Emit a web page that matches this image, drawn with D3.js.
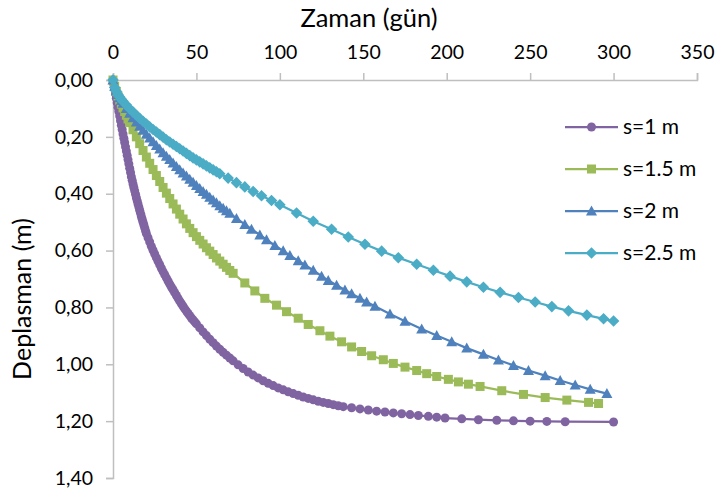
<!DOCTYPE html>
<html>
<head>
<meta charset="utf-8">
<script src="https://cdn.jsdelivr.net/npm/d3@7"></script>
<style>
  body { margin: 0; background: #fff; }
  svg { font-family: Lato, "Open Sans", sans-serif; }
</style>
</head>
<body>
<svg id="chart"></svg>
<script>
// Zaman (gün) vs Deplasman (m), one list of days and one of displacements per drain spacing
const seriesNames = ["s=1 m", "s=1.5 m", "s=2 m", "s=2.5 m"];

const s1Days = [0,0.5,1,1.5,2,2.5,3,3.5,4,4.5,5,5.5,6,6.5,7,7.5,8,8.5,9,9.5,10,
  10.5,11,11.5,12,12.5,13,13.5,14,14.5,15,15.5,16,16.5,17,17.5,18,18.5,19,19.5,20,
  21,22,23,24,25,26,27,28,29,30,31,32,33,34,35,36,37,38,39,40,41,42,43,44,45,46,47,48,49,50,
  52,54,56,58,60,62,64,66,68,70,72,
  75,78,81,84,87,90,93,96,99,102,105,108,111,114,117,120,123,126,129,132,135,138,
  143,148,153,158,163,168,173,178,183,189,194,199,
  209,219,230,240,250,260,271,300];
const s1Disp = [0,0.016,0.032,0.048,0.064,0.08,0.096,0.111,0.127,0.143,0.159,0.174,0.19,0.205,0.22,0.235,0.25,0.265,0.28,0.295,0.31,
  0.325,0.34,0.353,0.366,0.378,0.39,0.402,0.414,0.425,0.436,0.447,0.458,0.469,0.48,0.49,0.50,0.51,0.52,0.53,0.54,
  0.555,0.57,0.585,0.599,0.612,0.625,0.638,0.65,0.662,0.674,0.685,0.696,0.707,0.718,0.728,0.738,0.748,0.758,0.768,0.778,0.787,0.796,0.805,0.813,0.821,0.829,0.837,0.844,0.851,0.858,
  0.872,0.886,0.899,0.912,0.924,0.936,0.947,0.958,0.968,0.978,0.988,
  1.002,1.015,1.027,1.038,1.048,1.058,1.067,1.075,1.083,1.09,1.097,1.103,1.109,1.115,1.12,1.125,1.13,1.134,1.138,1.142,1.146,1.149,
  1.153,1.157,1.161,1.165,1.168,1.171,1.174,1.177,1.18,1.183,1.186,1.189,
  1.192,1.195,1.197,1.199,1.2,1.201,1.202,1.203];

const s15Days = [0,1,2,3,4,5,6,7,8,9,10,
  12,14,16,18,20,22,24,26,28,30,32,34,36,38,40,42,44,46,48,50,52,54,56,58,60,62,64,66,68,70,
  72,79,85,91,98,104,111,117,124,130,137,143,149,155,162,168,175,182,188,194,201,207,213,220,
  233,246,259,272,285,291];
const s15Disp = [0,0.022,0.04,0.056,0.071,0.085,0.098,0.111,0.124,0.137,0.15,
  0.175,0.2,0.224,0.248,0.271,0.293,0.315,0.336,0.357,0.378,0.398,0.417,0.436,0.454,0.472,0.489,0.506,0.522,0.537,0.551,0.564,0.577,0.59,0.602,0.614,0.626,0.637,0.648,0.659,0.67,
  0.68,0.714,0.742,0.768,0.792,0.815,0.838,0.86,0.882,0.901,0.921,0.939,0.955,0.97,0.984,0.997,1.01,1.022,1.033,1.043,1.053,1.062,1.07,1.078,
  1.093,1.106,1.117,1.126,1.134,1.138];

const s2Days = [0,1,2,3,4,5,6,
  8,10,12,14,16,18,20,22,24,26,28,30,32,34,36,38,40,42,44,46,48,50,52,54,56,58,60,62,64,66,68,70,
  74,79,83,88,92,97,102,106,111,115,120,125,129,134,139,143,148,152,157,
  166,175,185,194,203,212,222,231,240,249,259,268,277,286,296];
const s2Disp = [0,0.022,0.038,0.051,0.062,0.072,0.082,
  0.1,0.117,0.133,0.148,0.163,0.177,0.191,0.204,0.217,0.23,0.243,0.256,0.268,0.28,0.292,0.304,0.316,0.327,0.338,0.349,0.36,0.371,0.382,0.392,0.402,0.412,0.422,0.432,0.442,0.451,0.46,0.469,
  0.487,0.508,0.525,0.545,0.562,0.582,0.601,0.617,0.636,0.651,0.669,0.69,0.705,0.722,0.739,0.752,0.768,0.781,0.796,
  0.823,0.849,0.876,0.899,0.921,0.943,0.965,0.985,1.004,1.022,1.04,1.057,1.073,1.088,1.103];

const s25Days = [0,1,2,3,4,5,6,
  8,10,12,14,16,18,20,22,24,26,28,30,32,34,36,38,40,42,44,46,48,50,52,54,56,58,60,62,64,
  69,74,79,84,89,95,100,
  110,120,131,141,151,161,171,182,192,202,212,222,232,243,253,263,273,284,294,300];
const s25Disp = [0,0.026,0.04,0.051,0.06,0.068,0.075,
  0.088,0.101,0.113,0.124,0.135,0.145,0.155,0.165,0.174,0.183,0.192,0.201,0.21,0.218,0.226,0.234,0.242,0.25,0.258,0.266,0.274,0.281,0.288,0.295,0.302,0.309,0.316,0.323,0.33,
  0.345,0.361,0.376,0.392,0.407,0.424,0.439,
  0.468,0.497,0.525,0.552,0.578,0.602,0.625,0.648,0.669,0.69,0.71,0.729,0.747,0.765,0.781,0.797,0.812,0.827,0.84,0.848];

const xTicks = [0, 50, 100, 150, 200, 250, 300, 350];
const yTicks = [0, 0.2, 0.4, 0.6, 0.8, 1.0, 1.2, 1.4];

const width = 715, height = 491;
const colors = ["#8064A2", "#9BBB59", "#4F81BD", "#4BACC6"];
const shapes = ["circle", "square", "triangle", "diamond"];

const svg = d3.select("#chart").attr("width", width).attr("height", height);

const x = d3.scaleLinear().domain([0, 350]).range([113, 697]);
const y = d3.scaleLinear().domain([0, 1.4]).range([80, 478]);

const series = [
  { name: seriesNames[0], days: s1Days, disp: s1Disp },
  { name: seriesNames[1], days: s15Days, disp: s15Disp },
  { name: seriesNames[2], days: s2Days, disp: s2Disp },
  { name: seriesNames[3], days: s25Days, disp: s25Disp }
].map((s, i) => ({ ...s, color: colors[i], shape: shapes[i],
  points: s.days.map((d, j) => [d, s.disp[j]]) }));

// axes
const xAxis = svg.append("g").attr("transform", `translate(0,${y(0)})`)
  .call(d3.axisTop(x).tickValues(xTicks).tickSize(7).tickPadding(14));
const yAxis = svg.append("g").attr("transform", `translate(${x(0)},0)`)
  .call(d3.axisLeft(y).tickValues(yTicks).tickSize(7).tickPadding(13)
    .tickFormat(d => d3.format(".2f")(d).replace(".", ",")));

[xAxis, yAxis].forEach(g => {
  g.select(".domain").attr("stroke", "#BFBFBF").attr("stroke-width", 1.5);
  g.selectAll(".tick line").attr("stroke", "#BFBFBF").attr("stroke-width", 1.5);
  g.selectAll(".tick text").attr("fill", "#000").style("font-size", "19.5px")
    .style("font-family", "Lato, 'Open Sans', sans-serif");
});

svg.append("text").attr("x", 369).attr("y", 27).attr("text-anchor", "middle")
  .style("font-size", "25.5px").text("Zaman (gün)");
svg.append("text").attr("transform", "translate(31,299) rotate(-90)")
  .attr("text-anchor", "middle").style("font-size", "25px").text("Deplasman (m)");

// markers
function marker(sel, shape, color) {
  if (shape === "circle") {
    sel.append("circle").attr("r", 4.5).attr("fill", color);
  } else if (shape === "square") {
    sel.append("rect").attr("x", -4.5).attr("y", -4.5).attr("width", 9).attr("height", 9).attr("fill", color);
  } else if (shape === "triangle") {
    sel.append("path").attr("d", "M0,-5.5L5.5,4.5L-5.5,4.5Z").attr("fill", color);
  } else {
    sel.append("path").attr("d", "M0,-5.8L5.8,0L0,5.8L-5.8,0Z").attr("fill", color);
  }
}

const line = d3.line().x(d => x(d[0])).y(d => y(d[1]));

series.forEach(s => {
  const g = svg.append("g");
  g.append("path").datum(s.points).attr("d", line)
    .attr("fill", "none").attr("stroke", s.color).attr("stroke-width", 2.25);
  g.selectAll("g.pt").data(s.points).enter().append("g")
    .attr("class", "pt")
    .attr("transform", d => `translate(${x(d[0])},${y(d[1])})`)
    .each(function () { marker(d3.select(this), s.shape, s.color); });
});

// legend
const legendY = [127, 169, 211, 253];
series.forEach((s, i) => {
  const g = svg.append("g").attr("transform", `translate(565,${legendY[i]})`);
  g.append("line").attr("x1", 0).attr("x2", 53).attr("stroke", s.color).attr("stroke-width", 2.25);
  marker(g.append("g").attr("transform", "translate(26.5,0)"), s.shape, s.color);
  g.append("text").attr("x", 58).attr("dy", "0.35em").style("font-size", "21px").text(s.name);
});
</script>
</body>
</html>
